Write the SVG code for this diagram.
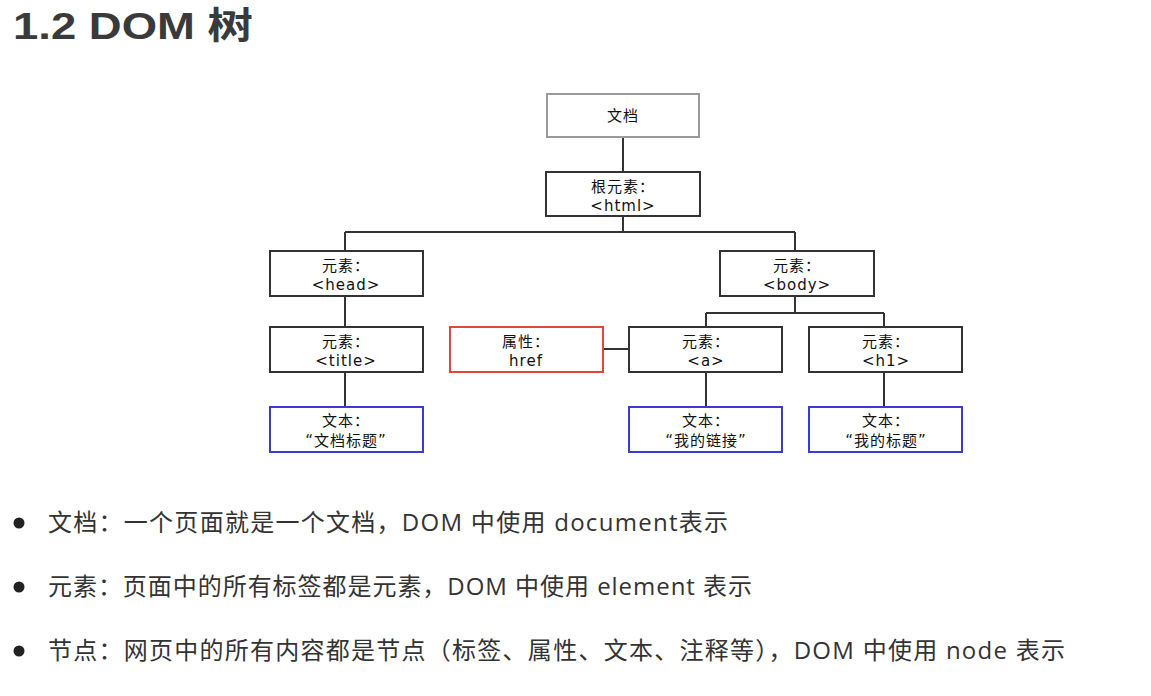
<svg xmlns="http://www.w3.org/2000/svg" width="1151" height="696" viewBox="0 0 1151 696">
<style>
.box{fill:#fff;stroke:#333;stroke-width:2}
.doc{stroke:#9a9a9a}
.attr{stroke:#e0483c}
.txt{stroke:#3a3ad8}
.lbl{font-family:"DejaVu Sans","Noto Sans CJK SC",sans-serif;font-size:15px;fill:#111;text-anchor:middle;letter-spacing:1px}
.con{fill:none;stroke:#333;stroke-width:2}
.bul{font-family:"Open Sans","Noto Sans CJK SC",sans-serif;font-size:24px;fill:#333}
</style>
<rect width="1151" height="696" fill="#fff"/>
<text x="13" y="39" font-family="Liberation Sans, Noto Sans CJK SC, sans-serif" font-weight="bold" font-size="37" fill="#3a3a3a" textLength="240" lengthAdjust="spacingAndGlyphs">1.2 DOM 树</text>
<g id="connectors">
<path class="con" d="M623 137V172M623 216V232M345 232H795M345 232V251M795 232V251M345 296V327M345 372V407M795 296V313M706 313H884M706 313V327M884 313V327M603 349H629M706 372V407M884 372V407"/>
</g>
<g id="n-doc"><rect class="box doc" x="547" y="94" width="152" height="43"/><text class="lbl" x="623" y="121">文档</text></g>
<g id="n-html"><rect class="box" x="546" y="172" width="154" height="44"/><text class="lbl" x="623" y="192">根元素：</text><text class="lbl" x="623" y="211">&lt;html&gt;</text></g>
<g id="n-head"><rect class="box" x="270" y="251" width="153" height="45"/><text class="lbl" x="346" y="271">元素：</text><text class="lbl" x="346" y="290">&lt;head&gt;</text></g>
<g id="n-body"><rect class="box" x="720" y="251" width="154" height="45"/><text class="lbl" x="797" y="271">元素：</text><text class="lbl" x="797" y="290">&lt;body&gt;</text></g>
<g id="n-title"><rect class="box" x="270" y="327" width="153" height="45"/><text class="lbl" x="346" y="347">元素：</text><text class="lbl" x="346" y="366">&lt;title&gt;</text></g>
<g id="n-href"><rect class="box attr" x="450" y="327" width="153" height="45"/><text class="lbl" x="526" y="347">属性：</text><text class="lbl" x="526" y="366">href</text></g>
<g id="n-a"><rect class="box" x="629" y="327" width="153" height="45"/><text class="lbl" x="706" y="347">元素：</text><text class="lbl" x="706" y="366">&lt;a&gt;</text></g>
<g id="n-h1"><rect class="box" x="809" y="327" width="153" height="45"/><text class="lbl" x="886" y="347">元素：</text><text class="lbl" x="886" y="366">&lt;h1&gt;</text></g>
<g id="n-t1"><rect class="box txt" x="270" y="407" width="153" height="45"/><text class="lbl" x="346" y="426">文本：</text><text class="lbl" x="346" y="446">“文档标题”</text></g>
<g id="n-t2"><rect class="box txt" x="629" y="407" width="153" height="45"/><text class="lbl" x="706" y="426">文本：</text><text class="lbl" x="706" y="446">“我的链接”</text></g>
<g id="n-t3"><rect class="box txt" x="809" y="407" width="153" height="45"/><text class="lbl" x="886" y="426">文本：</text><text class="lbl" x="886" y="446">“我的标题”</text></g>
<g id="bullets">
<circle cx="19" cy="523" r="5.5" fill="#222"/>
<circle cx="19" cy="587" r="5.5" fill="#222"/>
<circle cx="19" cy="651" r="5.5" fill="#222"/>
<text class="bul" x="48" y="531" textLength="680" lengthAdjust="spacing">文档：一个页面就是一个文档，DOM 中使用 document表示</text>
<text class="bul" x="48" y="595" textLength="704" lengthAdjust="spacing">元素：页面中的所有标签都是元素，DOM 中使用 element 表示</text>
<text class="bul" x="48" y="659" textLength="1017" lengthAdjust="spacing">节点：网页中的所有内容都是节点（标签、属性、文本、注释等），DOM 中使用 node 表示</text>
</g>
</svg>
